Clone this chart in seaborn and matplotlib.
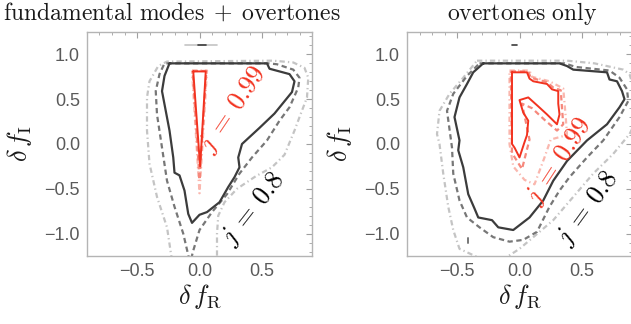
import matplotlib
matplotlib.use("Agg")
import matplotlib.pyplot as plt
from matplotlib.ticker import MultipleLocator
import seaborn as sns

# ---- contour data (delta f_R, delta f_I) ----
# left panel: fundamental modes + overtones
fo_solid_x = [-0.24, 0.54, 0.56, 0.72, 0.76, 0.74, 0.60, 0.48, 0.34, 0.31, 0.32, 0.28, 0.23, 0.16, 0.06, 0.0,
              -0.06, -0.09, -0.12, -0.16, -0.20, -0.21, -0.24, -0.27, -0.30, -0.28, -0.24]
fo_solid_y = [0.90, 0.90, 0.84, 0.78, 0.70, 0.58, 0.34, 0.18, 0.0, -0.15, -0.26, -0.37, -0.48, -0.65, -0.76, -0.79,
              -0.88, -0.78, -0.52, -0.35, -0.32, -0.15, 0.15, 0.37, 0.59, 0.76, 0.90]
fo_dash_x = [-0.08, -0.13, -0.20, -0.26, -0.30, -0.34, -0.35, -0.32, -0.28, 0.55, 0.62, 0.75, 0.80, 0.79, 0.72,
             0.64, 0.54, 0.42, 0.32, 0.22, 0.10, 0.0, -0.05, -0.07]
fo_dash_y = [-1.30, -1.00, -0.70, -0.41, -0.04, 0.33, 0.59, 0.78, 0.90, 0.90, 0.89, 0.83, 0.74, 0.63, 0.41,
             0.26, 0.04, -0.15, -0.33, -0.56, -0.76, -0.96, -1.19, -1.30]
fo_dot_x = [-0.22, -0.26, -0.34, -0.40, -0.42, -0.42, -0.40, -0.33, -0.26, 0.59, 0.75, 0.84, 0.87, 0.86, 0.80,
            0.76, 0.68, 0.58, 0.45, 0.30, 0.20, 0.15, 0.14, 0.14]
fo_dot_y = [-1.30, -0.93, -0.59, -0.22, 0.15, 0.52, 0.70, 0.87, 0.92, 0.93, 0.91, 0.85, 0.74, 0.52, 0.30,
            0.15, -0.12, -0.26, -0.36, -0.50, -0.65, -0.80, -1.00, -1.30]
fo_red_x = [-0.05, 0.05, 0.005, -0.05]
fo_red_y = [0.81, 0.81, -0.25, 0.81]
fo_red2_x = [-0.055, 0.055, 0.0, -0.055]
fo_red2_y = [0.815, 0.815, -0.40, 0.815]
fo_red3_x = [-0.06, 0.06, 0.0, -0.06]
fo_red3_y = [0.82, 0.82, -0.55, 0.82]
fo_blob_x = [-0.01, 0.05]
fo_blob_y = [1.11, 1.11]
fo_blob2_x = [-0.12, 0.14]
fo_blob2_y = [1.11, 1.11]

# right panel: overtones only
ov_solid_x = [-0.29, 0.32, 0.38, 0.43, 0.70, 0.72, 0.78, 0.82, 0.84, 0.80, 0.70, 0.54, 0.38, 0.27, 0.19, 0.08,
              -0.05, -0.17, -0.22, -0.33, -0.36, -0.41, -0.45, -0.49, -0.48, -0.52, -0.48, -0.42, -0.37, -0.29]
ov_solid_y = [0.90, 0.90, 0.87, 0.83, 0.80, 0.72, 0.70, 0.59, 0.50, 0.41, 0.22, 0.04, -0.19, -0.41, -0.63, -0.82,
              -0.96, -0.93, -0.85, -0.82, -0.72, -0.56, -0.26, -0.07, 0.04, 0.30, 0.52, 0.67, 0.80, 0.90]
ov_dash_x = [-0.32, 0.36, 0.45, 0.72, 0.80, 0.86, 0.87, 0.80, 0.67, 0.54, 0.40, 0.32, 0.24, 0.14, 0.03,
             -0.08, -0.21, -0.32, -0.42, -0.48, -0.53, -0.54, -0.58, -0.53, -0.42, -0.32]
ov_dash_y = [0.90, 0.90, 0.86, 0.82, 0.74, 0.61, 0.48, 0.30, 0.04, -0.15, -0.37, -0.52, -0.70, -0.98, -1.07,
             -1.09, -1.04, -0.93, -0.82, -0.63, -0.33, -0.04, 0.37, 0.56, 0.76, 0.90]
ov_dot_x = [-0.34, 0.38, 0.60, 0.83, 0.88, 0.93, 0.93, 0.88, 0.75, 0.59, 0.43, 0.27, 0.11, 0.0, -0.20,
            -0.48, -0.53, -0.57, -0.61, -0.64, -0.66, -0.64, -0.56, -0.45, -0.34]
ov_dot_y = [0.93, 0.93, 0.90, 0.83, 0.78, 0.55, 0.25, 0.11, -0.11, -0.33, -0.59, -0.85, -1.04, -1.17, -1.35,
            -1.17, -0.96, -0.70, -0.33, 0.0, 0.11, 0.37, 0.56, 0.74, 0.93]
ov_red_x = [-0.06, 0.06, 0.08, 0.11, 0.22, 0.26, 0.31, 0.31, 0.32, 0.30, 0.22, 0.15, 0.07, 0.0, 0.03, 0.07,
            0.06, 0.04, 0.0, -0.04, -0.06, -0.06]
ov_red_y = [0.80, 0.80, 0.73, 0.70, 0.67, 0.61, 0.59, 0.45, 0.33, 0.22, 0.33, 0.42, 0.52, 0.49, 0.35, 0.26,
            0.10, 0.02, -0.15, -0.04, 0.0, 0.80]
ov_red2_x = [-0.07, 0.07, 0.09, 0.22, 0.27, 0.33, 0.34, 0.35, 0.30, 0.20, 0.10, 0.02, 0.05, 0.08, 0.02, -0.06, -0.07]
ov_red2_y = [0.81, 0.81, 0.74, 0.69, 0.63, 0.60, 0.40, 0.22, 0.15, 0.27, 0.40, 0.45, 0.25, 0.05, -0.28, -0.10, 0.81]
ov_red3_x = [-0.08, 0.08, 0.10, 0.24, 0.35, 0.37, 0.38, 0.25, 0.20, 0.12, 0.04, -0.05, -0.08, -0.08]
ov_red3_y = [0.82, 0.82, 0.75, 0.70, 0.62, 0.30, 0.10, 0.05, -0.15, -0.45, -0.40, -0.25, 0.0, 0.82]
ov_blob_x = [-0.06, -0.02]
ov_blob_y = [1.10, 1.10]
ov_spot_x = [-0.41, -0.41]
ov_spot_y = [-1.05, -1.10]

title_left = r"$\mathrm{fundamental\ modes}\;+\;\mathrm{overtones}$"
title_right = r"$\mathrm{overtones\ only}$"
label_red = r"$j\:=\:0.99$"
label_black = r"$j\:=\:0.8$"

sns.set_theme(style="white")
plt.rcParams["mathtext.fontset"] = "cm"
plt.rcParams["font.family"] = ["Liberation Sans", "DejaVu Sans"]

GRAY1, GRAY2, GRAY3 = "#3c3c3c", "#777777", "#c4c4c4"
RED1, RED2, RED3 = "#f2321f", "#f6887c", "#fab7ae"
DASH = (0, (2.4, 1.6))
DASHDOT = (0, (2.4, 1.4, 0.6, 1.4))


def draw(ax, x, y, color, ls, lw=1.6, alpha=1.0):
    sns.lineplot(x=x, y=y, ax=ax, sort=False, estimator=None, color=color,
                 linestyle=ls, linewidth=lw, alpha=alpha)


def style_axes(ax):
    ax.set_xlim(-0.9, 0.9)
    ax.set_ylim(-1.25, 1.25)
    ax.xaxis.set_minor_locator(MultipleLocator(0.1))
    ax.yaxis.set_minor_locator(MultipleLocator(0.1))
    ax.set_xticks([-0.5, 0.0, 0.5])
    ax.set_xticklabels(["\u22120.5", "0.0", "0.5"])
    ax.set_yticks([-1.0, -0.5, 0.0, 0.5, 1.0])
    ax.set_yticklabels(["\u22121.0", "\u22120.5", "0.0", "0.5", "1.0"])
    ax.tick_params(which="both", direction="in", top=True, right=True, color="#a0a0a0",
                   labelcolor="#5a5a5a", labelsize=13)
    ax.tick_params(which="major", length=4, width=0.8, pad=5)
    ax.tick_params(which="minor", length=2, width=0.6)
    for s in ax.spines.values():
        s.set_color("#b4b4b4")
        s.set_linewidth(1.0)
    ax.set_xlabel(r"$\delta\, f_{\mathrm{R}}$", fontsize=19, color="#1a1a1a")
    ax.set_ylabel(r"$\delta\, f_{\mathrm{I}}$", fontsize=19, color="#1a1a1a")
    ax.xaxis.set_label_coords(0.5, -0.115)
    ax.yaxis.set_label_coords(-0.235, 0.5)


fig = plt.figure(figsize=(6.31, 3.24), dpi=100)
axl = fig.add_axes([87 / 631, 68 / 324, 225 / 631, 224 / 324])
axr = fig.add_axes([407 / 631, 68 / 324, 225 / 631, 224 / 324])

# left panel
draw(axl, fo_dot_x, fo_dot_y, GRAY3, DASHDOT)
draw(axl, fo_dash_x, fo_dash_y, GRAY2, DASH)
draw(axl, fo_solid_x, fo_solid_y, GRAY1, "-")
draw(axl, fo_blob2_x, fo_blob2_y, GRAY3, "-", lw=1.2)
draw(axl, fo_blob_x, fo_blob_y, GRAY1, "-", lw=1.2)
draw(axl, fo_red3_x, fo_red3_y, RED3, DASHDOT)
draw(axl, fo_red2_x, fo_red2_y, RED2, DASH)
draw(axl, fo_red_x, fo_red_y, RED1, "-", lw=1.4)
axl.text(0.27, 0.39, label_red, color=RED1, fontsize=19, rotation=56,
         ha="center", va="center")
axl.text(0.43, -0.72, label_black, color="black", fontsize=19, rotation=52,
         ha="center", va="center")

# right panel
draw(axr, ov_dot_x, ov_dot_y, GRAY3, DASHDOT)
draw(axr, ov_dash_x, ov_dash_y, GRAY2, DASH)
draw(axr, ov_solid_x, ov_solid_y, GRAY1, "-")
draw(axr, ov_blob_x, ov_blob_y, GRAY1, "-", lw=1.2)
draw(axr, ov_spot_x, ov_spot_y, GRAY2, "-", lw=1.4)
draw(axr, ov_red3_x, ov_red3_y, RED3, DASHDOT)
draw(axr, ov_red2_x, ov_red2_y, RED2, DASH)
draw(axr, ov_red_x, ov_red_y, RED1, "-", lw=1.4)
axr.text(0.32, -0.19, label_red, color=RED1, fontsize=19, rotation=57,
         ha="center", va="center")
axr.text(0.55, -0.72, label_black, color="black", fontsize=19, rotation=54,
         ha="center", va="center")

for ax in (axl, axr):
    style_axes(ax)

fig.text(172 / 631, 0.938, title_left, ha="center", va="baseline", fontsize=17, color="#1a1a1a")
fig.text(522 / 631, 0.938, title_right, ha="center", va="baseline", fontsize=17, color="#1a1a1a")

fig.savefig("out.png", dpi=100)
